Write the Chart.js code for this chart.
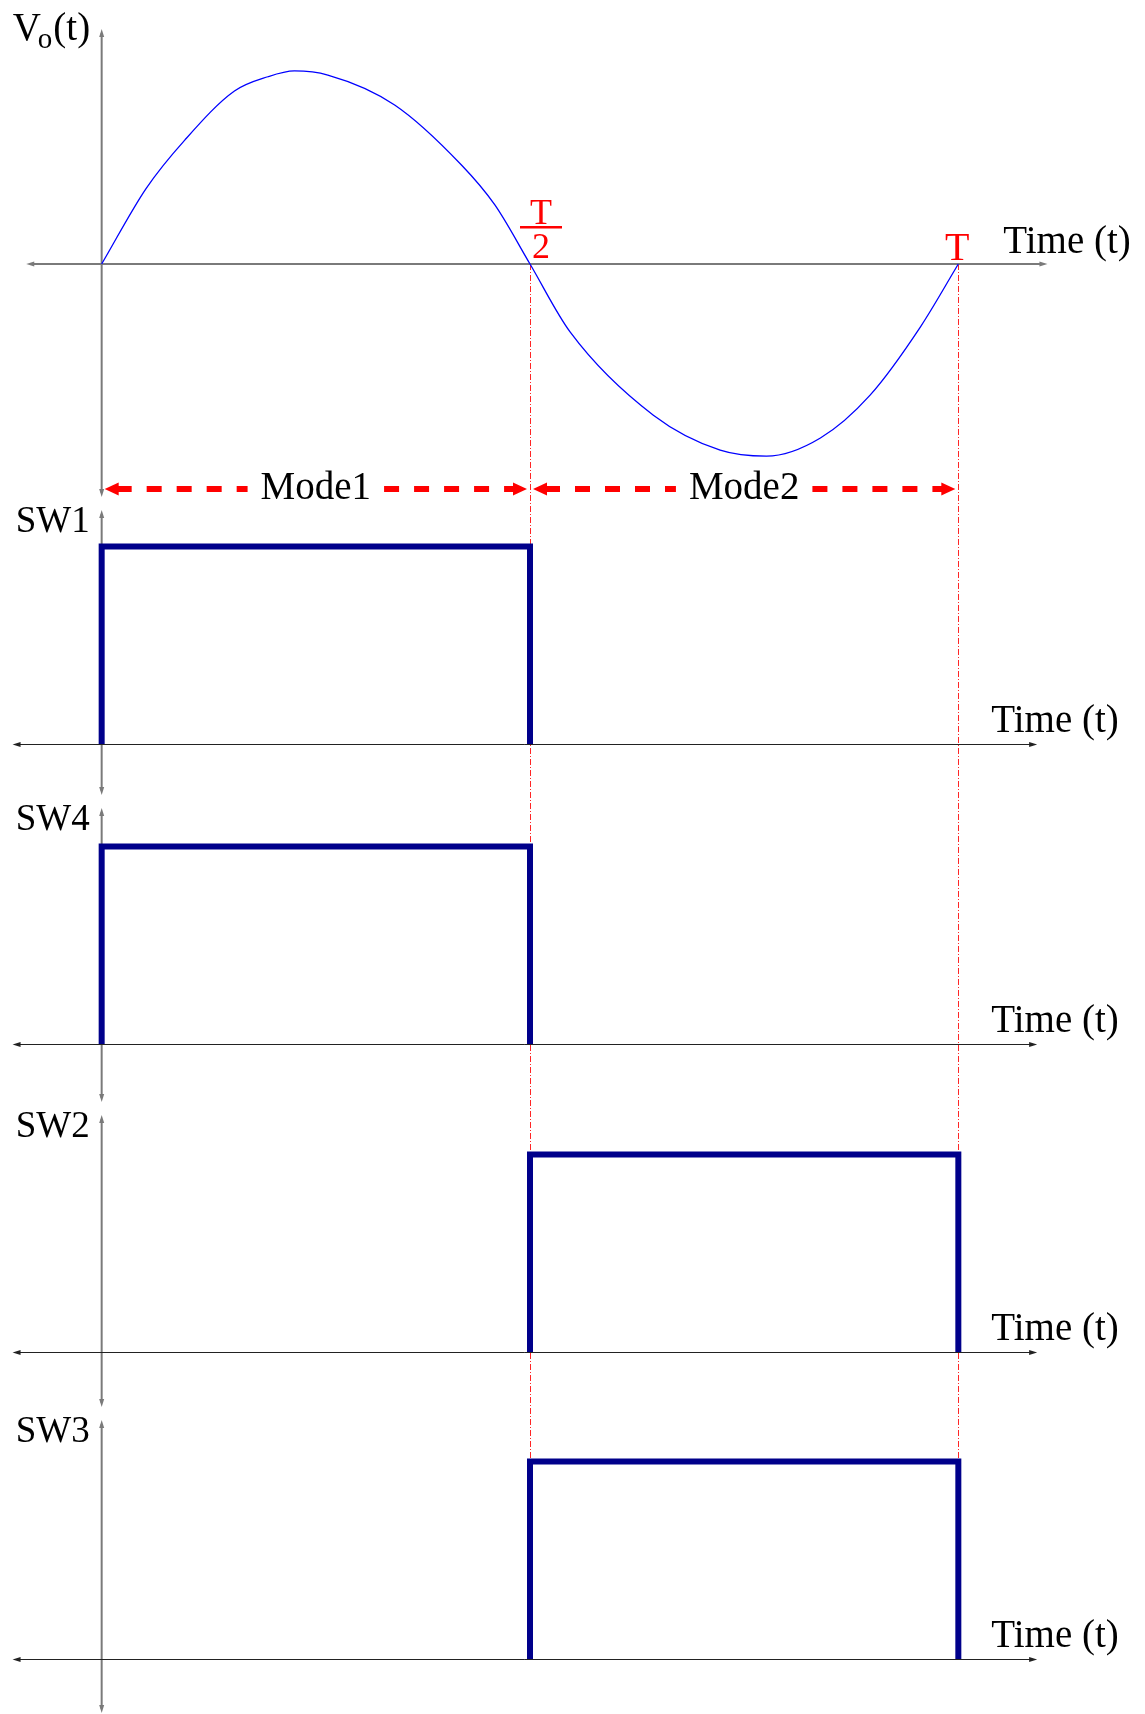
<!DOCTYPE html>
<html>
<head>
<meta charset="utf-8">
<title>Vo(t) and switch signals</title>
<script src="https://cdn.jsdelivr.net/npm/chart.js@4.4.1/dist/chart.umd.min.js"></script>
<style>
  html, body { margin: 0; padding: 0; background: #fff; }
  #wrap { position: relative; width: 1145px; height: 1714px; }
</style>
</head>
<body>
<div id="wrap"><canvas id="waveChart"></canvas></div>
<script>
// output voltage over one period (time in units of T)
const voTime = [0, 0.052, 0.097, 0.155, 0.194, 0.225, 0.264, 0.342, 0.420, 0.459, 0.5,
  0.547, 0.644, 0.722, 0.776, 0.839, 0.897, 0.956, 1];
const voLevel = [0, 0.392, 0.642, 0.896, 0.970, 1.0, 0.979, 0.824, 0.513, 0.306, 0,
  -0.353, -0.783, -0.964, -0.995, -0.901, -0.679, -0.324, 0];

// gate signals, null where the trace is not drawn
const gateTime = [0, 0, 0.5, 0.5, 1, 1];
const sw1Gate = [0, 1, 1, 0, null, null];
const sw4Gate = [0, 1, 1, 0, null, null];
const sw2Gate = [null, null, 0, 1, 1, 0];
const sw3Gate = [null, null, 0, 1, 1, 0];

const switchNames = ["SW1", "SW4", "SW2", "SW3"];
const modeNames = ["Mode1", "Mode2"];
const modeBounds = [0, 0.5, 1];
const periodMarks = [0.5, 1];

const SERIF = "'Liberation Serif', 'Times New Roman', serif";
const GATE_BLUE = "#00008b";

// panels from top to bottom; ranges place the zero line inside each strip
const panels = [
  { id: "yVo", min: -1.238, max: 1.264, weight: 483 },
  { id: "ySW1", min: -0.289, max: 1.220, weight: 298 },
  { id: "ySW4", min: -0.324, max: 1.230, weight: 307 },
  { id: "ySW2", min: -0.309, max: 1.235, weight: 305 },
  { id: "ySW3", min: -0.279, max: 1.246, weight: 301 }
];
const swScaleIds = ["ySW1", "ySW4", "ySW2", "ySW3"];

function toPoints(xs, ys) {
  return xs.map((x, i) => ({ x, y: ys[i] }));
}

function buildScales() {
  const scales = {
    x: { type: "linear", min: -0.1, max: 1.1, display: false }
  };
  // stacked left axes are laid out last-defined first, so add bottom panel first
  [...panels].reverse().forEach(p => {
    scales[p.id] = {
      type: "linear",
      position: "left",
      stack: "waves",
      stackWeight: p.weight,
      min: p.min,
      max: p.max,
      display: false
    };
  });
  return scales;
}

function gateDataset(label, values, yAxisID) {
  return {
    label,
    data: toPoints(gateTime, values),
    yAxisID,
    borderColor: GATE_BLUE,
    borderWidth: 6,
    borderJoinStyle: "miter",
    borderCapStyle: "butt",
    pointRadius: 0,
    spanGaps: false,
    tension: 0,
    clip: false
  };
}

function arrowHead(ctx, tx, ty, dx, dy, len, half) {
  const px = -dy, py = dx;
  ctx.beginPath();
  ctx.moveTo(tx, ty);
  ctx.lineTo(tx - dx * len + px * half, ty - dy * len + py * half);
  ctx.lineTo(tx - dx * len - px * half, ty - dy * len - py * half);
  ctx.closePath();
  ctx.fill();
}

function hAxis(ctx, x0, x1, y, color, width) {
  ctx.strokeStyle = color;
  ctx.fillStyle = color;
  ctx.lineWidth = width;
  ctx.beginPath();
  ctx.moveTo(x0 + 4, y);
  ctx.lineTo(x1 - 4, y);
  ctx.stroke();
  arrowHead(ctx, x0, y, -1, 0, 8, 2.5);
  arrowHead(ctx, x1, y, 1, 0, 8, 2.5);
}

function vAxis(ctx, x, y0, y1, color, width) {
  ctx.strokeStyle = color;
  ctx.fillStyle = color;
  ctx.lineWidth = width;
  ctx.beginPath();
  ctx.moveTo(x, y0 + 4);
  ctx.lineTo(x, y1 - 4);
  ctx.stroke();
  arrowHead(ctx, x, y0, 0, -1, 8, 2.5);
  arrowHead(ctx, x, y1, 0, 1, 8, 2.5);
}

const waveDecor = {
  id: "waveDecor",
  beforeDatasetsDraw(chart) {
    const { ctx, scales } = chart;
    const xs = scales.x;
    const x0 = xs.getPixelForValue(0);
    ctx.save();

    // dash-dot guides at T/2 and T
    const yTop = scales.yVo.getPixelForValue(0);
    const yBot = scales.ySW3.getPixelForValue(0);
    ctx.strokeStyle = "rgba(255,0,0,0.85)";
    ctx.lineWidth = 1;
    ctx.setLineDash([6, 2, 1, 2]);
    periodMarks.forEach(t => {
      const px = Math.round(xs.getPixelForValue(t)) + 0.5;
      ctx.beginPath();
      ctx.moveTo(px, yTop);
      ctx.lineTo(px, yBot);
      ctx.stroke();
    });
    ctx.setLineDash([]);

    // Vo axes
    const vo = scales.yVo;
    const voZero = vo.getPixelForValue(0);
    vAxis(ctx, x0, vo.top + 9, vo.bottom - 6, "#7a7a7a", 2);
    hAxis(ctx, xs.getPixelForValue(-0.088), xs.getPixelForValue(1.104), voZero, "#7a7a7a", 2);

    // switch axes
    swScaleIds.forEach((id, i) => {
      const s = scales[id];
      const zero = Math.round(s.getPixelForValue(0)) + 0.5;
      const last = i === swScaleIds.length - 1;
      vAxis(ctx, x0, s.top + 7, last ? chart.height - 1 : s.bottom - 6, "#7a7a7a", 2);
      hAxis(ctx, xs.getPixelForValue(-0.104), xs.getPixelForValue(1.092), zero, "#222", 1);
    });
    ctx.restore();
  },

  afterDatasetsDraw(chart) {
    const { ctx, scales } = chart;
    const xs = scales.x;
    const x0 = xs.getPixelForValue(0);
    const xT = xs.getPixelForValue(1);
    const vo = scales.yVo;
    const voZero = vo.getPixelForValue(0);
    ctx.save();
    ctx.textBaseline = "alphabetic";

    // Vo(t) label with subscript
    ctx.fillStyle = "#000";
    ctx.textAlign = "left";
    ctx.font = `39px ${SERIF}`;
    let lx = x0 - 89;
    ctx.fillText("V", lx, vo.top + 20);
    lx += ctx.measureText("V").width - 3;
    ctx.font = `29px ${SERIF}`;
    ctx.fillText("o", lx, vo.top + 28);
    lx += ctx.measureText("o").width + 1;
    ctx.font = `39px ${SERIF}`;
    ctx.fillText("(t)", lx, vo.top + 20);

    // time labels
    ctx.font = `39px ${SERIF}`;
    ctx.fillText("Time (t)", xT + 45, voZero - 11);
    swScaleIds.forEach(id => {
      const zero = scales[id].getPixelForValue(0);
      ctx.fillText("Time (t)", xT + 33, zero - 12);
    });

    // switch names
    ctx.textAlign = "right";
    ctx.font = `37px ${SERIF}`;
    swScaleIds.forEach((id, i) => {
      ctx.fillText(switchNames[i], x0 - 12, scales[id].top + 29);
    });

    // T/2 and T marks
    ctx.fillStyle = "#ff0000";
    ctx.textAlign = "center";
    const cx = xs.getPixelForValue(0.5) + 11;
    ctx.font = `36px ${SERIF}`;
    ctx.fillText("T", cx, voZero - 40);
    ctx.fillText("2", cx, voZero - 6);
    ctx.fillRect(cx - 21, voZero - 38, 42, 2.5);
    ctx.font = `40px ${SERIF}`;
    ctx.fillText("T", xT - 1, voZero - 4);

    // mode arrows
    const my = vo.getPixelForValue(-1.166);
    ctx.font = `39px ${SERIF}`;
    modeNames.forEach((name, i) => {
      const a = xs.getPixelForValue(modeBounds[i]) + 3;
      const b = xs.getPixelForValue(modeBounds[i + 1]) - 3;
      const mid = (a + b) / 2;
      const half = ctx.measureText(name).width / 2 + 13;
      ctx.fillStyle = "#ff0000";
      ctx.strokeStyle = "#ff0000";
      ctx.lineWidth = 6;
      ctx.setLineDash([15, 15]);
      ctx.beginPath();
      ctx.moveTo(a + 12, my);
      ctx.lineTo(mid - half, my);
      ctx.stroke();
      ctx.beginPath();
      ctx.moveTo(mid + half, my);
      ctx.lineTo(b - 8, my);
      ctx.stroke();
      ctx.setLineDash([]);
      arrowHead(ctx, a, my, -1, 0, 14, 6.5);
      arrowHead(ctx, b, my, 1, 0, 14, 6.5);
      ctx.fillStyle = "#000";
      ctx.fillText(name, mid, my + 10);
    });
    ctx.restore();
  }
};

new Chart(document.getElementById("waveChart"), {
  type: "line",
  data: {
    datasets: [
      {
        label: "Vo(t)",
        data: toPoints(voTime, voLevel),
        yAxisID: "yVo",
        borderColor: "#0000ff",
        borderWidth: 1.3,
        pointRadius: 0,
        cubicInterpolationMode: "monotone",
        clip: false
      },
      gateDataset("SW1", sw1Gate, "ySW1"),
      gateDataset("SW4", sw4Gate, "ySW4"),
      gateDataset("SW2", sw2Gate, "ySW2"),
      gateDataset("SW3", sw3Gate, "ySW3")
    ]
  },
  options: {
    responsive: true,
    maintainAspectRatio: false,
    animation: false,
    layout: { padding: { top: 20, left: 16, right: 101, bottom: 0 } },
    scales: buildScales(),
    plugins: {
      legend: { display: false },
      tooltip: { enabled: false }
    }
  },
  plugins: [waveDecor]
});
</script>
</body>
</html>
